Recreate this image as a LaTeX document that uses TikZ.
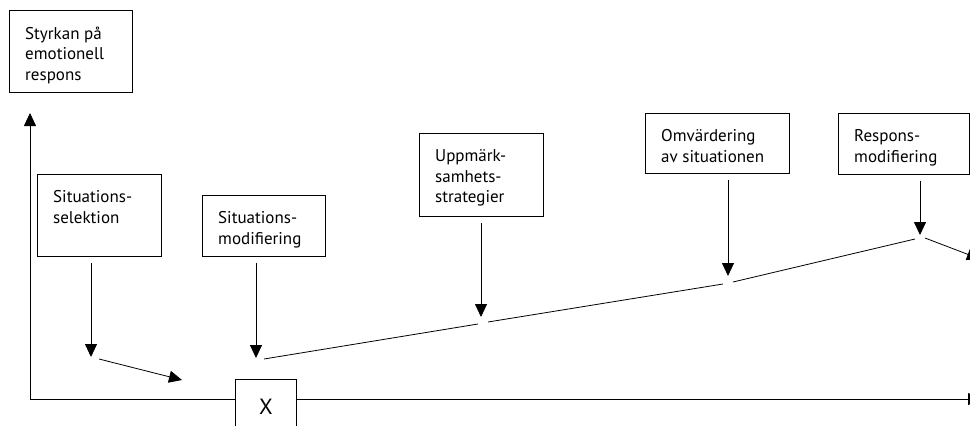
\documentclass[tikz,border=0pt]{standalone}
\usepackage{fontspec}
\setmainfont{PT Sans}
\usetikzlibrary{arrows.meta}

\tikzset{
  ruta/.style={draw, line width=0.9pt, anchor=north west, inner sep=0pt},
  etikett/.style={anchor=north west, inner sep=0pt, align=left,
    font=\fontsize{17}{20.5}\selectfont},
  pil/.style={-{Triangle[length=13pt,width=12pt]}, line width=0.8pt},
  linje/.style={line width=0.8pt}
}

\begin{document}
\begin{tikzpicture}[x=1pt,y=-1pt]
  \useasboundingbox (0,0) rectangle (970,426);
  \clip (0,0) rectangle (970,426);

  % rutor
  \node[ruta, minimum width=123, minimum height=82] (styrka) at (9,10) {};
  \node[ruta, minimum width=124, minimum height=82] (sel) at (37,174) {};
  \node[ruta, minimum width=123, minimum height=61] (mod) at (202,195) {};
  \node[ruta, minimum width=124, minimum height=83] (upp) at (419,133) {};
  \node[ruta, minimum width=144, minimum height=60] (omv) at (645,113) {};
  \node[ruta, minimum width=131, minimum height=61] (resp) at (838,113) {};

  % texter i rutorna
  \foreach \n/\t in {styrka/{Styrkan på\\emotionell\\respons},
      sel/{Situations-\\selektion}, mod/{Situations-\\modifiering},
      upp/{Uppmärk-\\samhets-\\strategier}, omv/{Omvärdering\\av situationen},
      resp/{Respons-\\modifiering}}{
      \node[etikett] (\n-text) at ([shift={(16,16.5)}]\n.north west) {\t};
  }

  % axlar
  \coordinate (o) at (30,399);
  \coordinate (ytopp) at (30,113);
  \coordinate (xslut) at (981,399);
  \draw[pil] (o) -- (ytopp);
  \draw[pil] (o) -- (xslut);
  \node[ruta, fill=white, minimum width=61, minimum height=54,
    font=\fontsize{22}{22}\selectfont] (x) at (235,379) {X};

  % pilar ned fran rutorna
  \coordinate (s1) at (91,357);
  \coordinate (s2) at (256,358);
  \coordinate (s3) at (481,317);
  \coordinate (s4) at (728,276);
  \coordinate (s5) at (920,235);
  \foreach \b/\s in {sel/s1, mod/s2, upp/s3, omv/s4, resp/s5}{
      \draw[pil, shorten <=6pt] (\b.south -| \s) -- (\s);
  }

  % kurvan
  \coordinate (k0a) at (99,359);
  \coordinate (k0b) at (182,380);
  \coordinate (k1) at (264,359);
  \coordinate (k2a) at (478,324);
  \coordinate (k2b) at (488,322);
  \coordinate (k3a) at (723,284);
  \coordinate (k3b) at (733,282);
  \coordinate (k4a) at (915,239);
  \coordinate (k4b) at (925,238);
  \coordinate (k5) at (980,259);
  \draw[pil] (k0a) -- (k0b);
  \draw[linje] (k1) -- (k2a);
  \draw[linje] (k2b) -- (k3a);
  \draw[linje] (k3b) -- (k4a);
  \draw[pil] (k4b) -- (k5);
\end{tikzpicture}
\end{document}
